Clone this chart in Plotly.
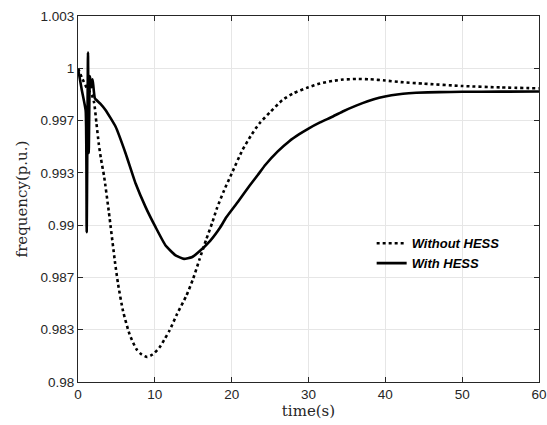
import plotly.graph_objects as go

# Without HESS (dotted)
t_without = [0, 0.6, 1.2, 1.8, 2.1, 2.4, 2.7, 3.0, 3.4, 4.0, 4.8, 5.2, 5.85, 6.7, 7.6, 8.3, 9.0,
             9.7, 10.6, 11.3, 11.9, 12.9, 14.1, 15.0, 15.8, 16.7, 17.5, 18.1, 19.0, 20.0, 21.4,
             22.5, 23.6, 25.0, 26.6, 28.0, 30.0, 31.5, 33.1, 34.5, 36.2, 38.0, 40.0, 42.0, 45.0,
             50.0, 55.0, 60.0]
f_without = [1.0, 0.9993, 0.9987, 0.9983, 0.9978, 0.9965, 0.9952, 0.9942, 0.9931, 0.9909, 0.9877,
             0.9863, 0.98455, 0.98306, 0.9821, 0.98175, 0.9816, 0.98175, 0.9822, 0.98275, 0.98327,
             0.98434, 0.9855, 0.9866, 0.9878, 0.9891, 0.9902, 0.9911, 0.9922, 0.99329, 0.99478,
             0.9957, 0.99648, 0.9972, 0.99797, 0.9984, 0.99879, 0.99903, 0.99919, 0.99928, 0.99932,
             0.9993, 0.99922, 0.99912, 0.99902, 0.99887, 0.99878, 0.99872]

# With HESS (solid)
t_with = [0, 0.5, 1.0, 1.13, 1.3, 1.4, 1.55, 1.75, 1.9, 2.2, 2.9, 3.6, 4.9, 6.2, 7.5, 8.8, 10.1,
          11.4, 12.7, 13.8, 14.8, 15.85, 17.2, 18.5, 19.3, 20.8, 22.3, 23.4, 24.4, 26.0, 27.5,
          28.8, 30.0, 31.5, 33.1, 34.6, 36.2, 37.7, 39.2, 40.8, 42.3, 44.0, 47.0, 50.0, 55.0, 60.0]
f_with = [1.0, 0.9986, 0.9973, 0.98955, 1.001, 0.9946, 0.9995, 0.9988, 0.9993, 0.99808, 0.99775,
          0.99733, 0.99627, 0.99457, 0.99265, 0.99115, 0.98987, 0.9887, 0.98807, 0.98785, 0.98795,
          0.98835, 0.989, 0.98985, 0.9905, 0.99148, 0.9925, 0.9932, 0.99385, 0.9947, 0.99535,
          0.9958, 0.99616, 0.99655, 0.99691, 0.99728, 0.99762, 0.9979, 0.99812, 0.99828, 0.99838,
          0.99844, 0.99848, 0.9985, 0.99851, 0.99852]

y_tickvals = [0.98 + k / 300 for k in range(8)]
y_ticktext = ["0.98", "0.983", "0.987", "0.99", "0.993", "0.997", "1", "1.003"]
x_tickvals = [0, 10, 20, 30, 40, 50, 60]

fig = go.Figure()
fig.add_trace(go.Scatter(x=t_without, y=f_without, mode="lines", name="<b><i>Without HESS</i></b>",
                         line=dict(color="black", width=2.6, dash="dot", shape="spline", smoothing=0.6)))
fig.add_trace(go.Scatter(x=t_with, y=f_with, mode="lines", name="<b><i>With HESS</i></b>",
                         line=dict(color="black", width=2.6, shape="spline", smoothing=0.4)))

axis_common = dict(showline=True, linecolor="#262626", linewidth=1, mirror="ticks",
                   ticks="inside", ticklen=5, tickcolor="#262626",
                   showgrid=True, gridcolor="#e6e6e6", gridwidth=1, zeroline=False,
                   automargin=False,
                   tickfont=dict(family="Arial", size=13.5, color="#262626"))

fig.update_xaxes(range=[0, 60], tickvals=x_tickvals, **axis_common,
                 title=dict(text="time(s)", font=dict(family="DejaVu Serif", size=15, color="#262626"),
                            standoff=3))
fig.update_yaxes(range=[0.98, 0.98 + 7 / 300], tickvals=y_tickvals, ticktext=y_ticktext, **axis_common,
                 title=dict(text="frequency(p.u.)", font=dict(family="DejaVu Serif", size=15, color="#262626"),
                            standoff=9))

fig.update_layout(
    width=547, height=425,
    margin=dict(l=78, r=8, t=16, b=43),
    paper_bgcolor="white", plot_bgcolor="white",
    showlegend=True,
    legend=dict(x=0.637, y=0.42, xanchor="left", yanchor="top", bgcolor="rgba(0,0,0,0)",
                borderwidth=0, font=dict(family="Arial", size=13, color="black"),
                tracegroupgap=0),
)

fig.write_html("out.html", config={"displayModeBar": False},
               post_script="document.body.style.margin='0';document.body.style.overflow='hidden';")
